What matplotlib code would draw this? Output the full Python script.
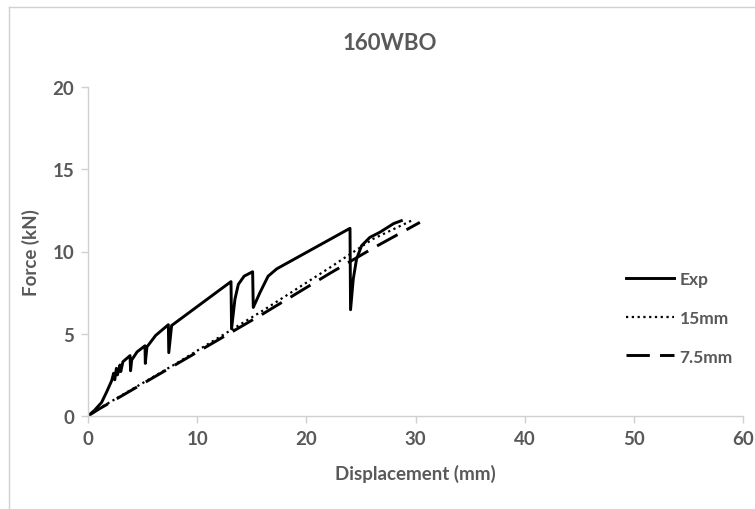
import matplotlib
matplotlib.use('Agg')
from matplotlib import pyplot as plt
from matplotlib.lines import Line2D

# Exp curve (displacement mm, force kN)
exp_x = [0, 0.6, 1.25, 1.7, 2.17, 2.35, 2.45, 2.6, 2.7, 2.93, 3.0, 3.2, 3.85, 3.9, 4.0, 4.5,
         5.22, 5.25, 5.4, 6.2, 7.36, 7.4, 7.66, 13.1, 13.15, 13.46, 13.77, 14.3, 15.08, 15.14,
         15.75, 16.5, 17.3, 24.0, 24.05, 24.3, 24.6, 25.06, 25.82, 26.74, 28.0, 28.7]
exp_y = [0, 0.35, 0.83, 1.45, 2.15, 2.6, 2.2, 2.9, 2.5, 3.1, 2.7, 3.3, 3.67, 2.75, 3.4, 3.9,
         4.27, 3.2, 4.2, 4.9, 5.55, 3.85, 5.5, 8.17, 5.3, 7.1, 8.0, 8.5, 8.77, 6.6,
         7.5, 8.5, 8.95, 11.41, 6.46, 8.33, 9.54, 10.35, 10.86, 11.17, 11.7, 11.87]

# 15mm model
m15_x = [0, 1.0, 8.1, 16.0, 22.2, 26.1, 29.8]
m15_y = [0, 0.45, 3.2, 6.4, 9.04, 10.76, 11.93]

# 7.5mm model
m75_x = [0, 1.0, 8.1, 16.0, 22.2, 26.1, 30.4]
m75_y = [0, 0.42, 3.15, 6.2, 8.69, 10.2, 11.77]

gray = '#595959'
axcol = '#d0d0d0'
plt.rcParams['font.family'] = ['Lato', 'DejaVu Sans']

fig = plt.figure(figsize=(7.55, 5.10), dpi=100)
ax = fig.add_axes([88/755, 93/510, 655/755, 329/510])

# chart border (cut off at right and bottom)
fig.add_artist(Line2D([9/755, 9/755], [0, 1 - 8/510], color=axcol, lw=1, transform=fig.transFigure))
fig.add_artist(Line2D([9/755, 1], [1 - 8/510, 1 - 8/510], color=axcol, lw=1, transform=fig.transFigure))

ax.plot(exp_x, exp_y, color='black', lw=2.1, label='Exp')
ax.plot(m15_x, m15_y, color='black', lw=1.6, linestyle=(0, (1, 1.6)), label='15mm')
ax.plot(m75_x, m75_y, color='black', lw=2.1, linestyle=(0, (8, 3.5)), label='7.5mm')

ax.set_xlim(0, 60)
ax.set_ylim(0, 20)
ax.set_xticks([0, 10, 20, 30, 40, 50, 60])
ax.set_yticks([0, 5, 10, 15, 20])
for s in ['top', 'right']:
    ax.spines[s].set_visible(False)
for s in ['left', 'bottom']:
    ax.spines[s].set_color(axcol)
    ax.spines[s].set_linewidth(1)
ax.tick_params(colors=axcol, labelcolor=gray, length=5, width=1, labelsize=13.5, pad=5)
for lab in ax.get_xticklabels() + ax.get_yticklabels():
    lab.set_fontweight('bold')

ax.set_xlabel('Displacement (mm)', fontsize=13.5, fontweight='bold', color=gray, labelpad=12)
ax.set_ylabel('Force (kN)', fontsize=13.5, fontweight='bold', color=gray, labelpad=9)
fig.text(390/755, 1 - 43/510, '160WBO', ha='center', va='center',
         fontsize=16, fontweight='bold', color=gray)

leg = ax.legend(loc='center left', bbox_to_anchor=(610/755, 1 - 319/510), bbox_transform=fig.transFigure,
                frameon=False, handlelength=2.8, handletextpad=0.3, labelspacing=1.3,
                prop={'size': 12.5, 'weight': 'bold'})
for t in leg.get_texts():
    t.set_color(gray)

fig.savefig('out.png', dpi=100)
